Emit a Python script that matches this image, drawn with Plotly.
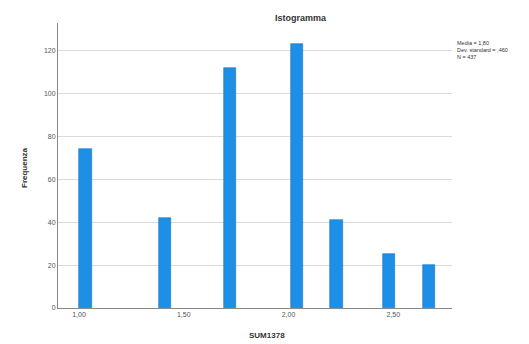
import plotly.graph_objects as go

bin_centers = [1.03, 1.41, 1.72, 2.04, 2.23, 2.48, 2.67]
frequencies = [74, 42, 112, 123, 41, 25, 20]
x_tick_vals = [1.0, 1.5, 2.0, 2.5]
x_tick_text = ["1,00", "1,50", "2,00", "2,50"]
y_tick_vals = [0, 20, 40, 60, 80, 100, 120]
stats_lines = ["Media = 1,80", "Dev. standard = ,460", "N = 437"]

L, R, T, B = 58, 452, 23, 308
W, H = 529, 344

fig = go.Figure()
fig.add_trace(go.Bar(
    x=bin_centers, y=frequencies, width=0.06,
    marker=dict(color="#1E8FE6", line=dict(color="#1672BF", width=0.6)),
    showlegend=False,
))

fig.update_layout(
    width=W, height=H,
    margin=dict(l=L, r=W - R, t=T, b=H - B, autoexpand=False),
    paper_bgcolor="white", plot_bgcolor="white",
    font=dict(family="Liberation Sans, Arial, sans-serif", color="#333"),
    xaxis=dict(range=[0.90, 2.78], tickvals=x_tick_vals, ticktext=x_tick_text,
               tickfont=dict(size=7, color="#555"), showgrid=False, automargin=False,
               showline=True, linecolor="#888", linewidth=1, zeroline=False, ticks=""),
    yaxis=dict(range=[0, 133], tickvals=y_tick_vals, automargin=False,
               tickfont=dict(size=7, color="#555"), showgrid=True, gridcolor="#DADADA",
               gridwidth=1, showline=True, linecolor="#888", linewidth=1, zeroline=False,
               ticks=""),
    bargap=0,
)

def px_x(p):
    return (p - L) / (R - L)

def px_y(p):
    return (B - p) / (B - T)

fig.add_annotation(text="<b>Istogramma</b>", xref="paper", yref="paper",
                   x=px_x(301), y=px_y(18), xanchor="center", yanchor="middle",
                   showarrow=False, font=dict(size=9, color="#333"))
fig.add_annotation(text="<b>SUM1378</b>", xref="paper", yref="paper",
                   x=px_x(267), y=px_y(335), xanchor="center", yanchor="middle",
                   showarrow=False, font=dict(size=8, color="#333"))
fig.add_annotation(text="<b>Frequenza</b>", xref="paper", yref="paper",
                   x=px_x(24), y=px_y(168), xanchor="center", yanchor="middle",
                   showarrow=False, textangle=-90, font=dict(size=8, color="#333"))

fig.add_annotation(text="<br>".join(stats_lines), xref="paper", yref="paper",
                   x=px_x(455), y=px_y(38), xanchor="left", yanchor="top",
                   align="left", showarrow=False,
                   font=dict(size=5.5, color="#333"))

fig.write_html("out.html", config={"displayModeBar": False},
               post_script="document.body.style.margin='0';")
